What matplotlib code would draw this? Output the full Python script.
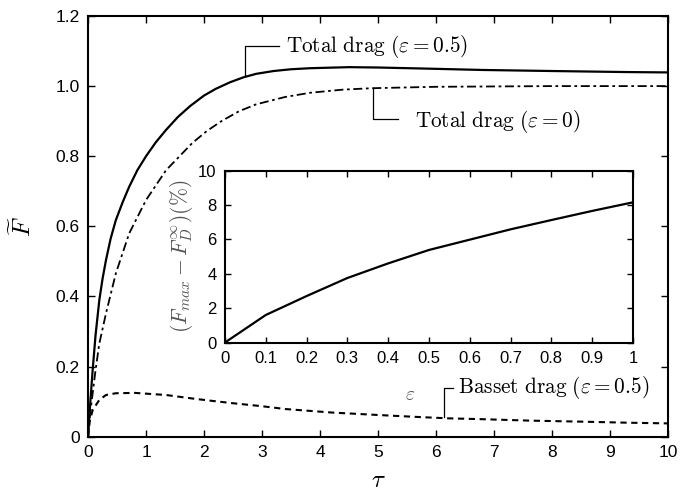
import matplotlib
matplotlib.use('Agg')
import matplotlib.pyplot as plt

plt.rcParams['font.family'] = ['Liberation Sans', 'DejaVu Sans']
plt.rcParams['mathtext.fontset'] = 'cm'

# total drag, eps = 0.5 (solid)
tau_a = [0, 0.02, 0.04, 0.08, 0.13, 0.195, 0.25, 0.31, 0.39, 0.48, 0.6, 0.71, 0.85,
         1.0, 1.17, 1.345, 1.55, 1.76, 2.0, 2.2, 2.45, 2.68, 2.9, 3.2, 3.5, 3.83,
         4.5, 5.0, 5.8, 6.8, 8.0, 9.3, 10]
F_a = [0, 0.05, 0.10, 0.19, 0.29, 0.39, 0.45, 0.504, 0.565, 0.618, 0.67, 0.713,
       0.76, 0.80, 0.84, 0.875, 0.912, 0.943, 0.973, 0.992, 1.011, 1.025, 1.035,
       1.043, 1.048, 1.051, 1.054, 1.053, 1.05, 1.046, 1.043, 1.040, 1.039]

# total drag, eps = 0 (dash-dot)
tau_b = [0, 0.02, 0.04, 0.08, 0.13, 0.195, 0.31, 0.48, 0.71, 1.0, 1.345, 1.8,
         2.05, 2.3, 2.6, 2.9, 3.4, 3.83, 4.4, 4.9, 6.0, 8.0, 10]
F_b = [0, 0.04, 0.07, 0.124, 0.19, 0.266, 0.352, 0.466, 0.58, 0.675, 0.76, 0.838,
       0.872, 0.9, 0.928, 0.948, 0.969, 0.981, 0.99, 0.994, 0.998, 1.0, 1.0]

# basset drag, eps = 0.5 (dashed)
tau_c = [0, 0.03, 0.08, 0.195, 0.31, 0.48, 0.81, 1.345, 1.8, 2.1, 2.53, 3.0, 3.4,
         4.2, 5.0, 5.6, 6.2, 6.8, 7.6, 8.5, 9.3, 10]
F_c = [0, 0.045, 0.076, 0.105, 0.119, 0.124, 0.125, 0.119, 0.109, 0.103, 0.095,
       0.087, 0.079, 0.069, 0.062, 0.057, 0.0525, 0.05, 0.046, 0.043, 0.040, 0.038]

# inset: max overshoot vs eps
eps = [0, 0.1, 0.2, 0.3, 0.4, 0.5, 0.6, 0.7, 0.8, 0.9, 1.0]
over = [0, 1.6, 2.7, 3.75, 4.6, 5.38, 5.98, 6.58, 7.12, 7.65, 8.15]

yticks = [0, 0.2, 0.4, 0.6, 0.8, 1.0, 1.2]
ylabels = ['0', '0.2', '0.4', '0.6', '0.8', '1.0', '1.2']
in_xticks = [0, 0.1, 0.2, 0.3, 0.4, 0.5, 0.6, 0.7, 0.8, 0.9, 1.0]
in_xlabels = ['0', '0.1', '0.2', '0.3', '0.4', '0.5', '0.6', '0.7', '0.8', '0.9', '1']

fig = plt.figure(figsize=(6.92, 4.99), dpi=100)
ax = fig.add_axes([0.1272, 0.1248, 0.8381, 0.8432])

ax.plot(tau_a, F_a, color='k', lw=1.6)
ax.plot(tau_b, F_b, color='k', lw=1.3, linestyle=(0, (5, 2, 1.5, 2)))
ax.plot(tau_c, F_c, color='k', lw=1.5, linestyle=(0, (3, 2.2)))

ax.set_xlim(0, 10)
ax.set_ylim(0, 1.2)
ax.set_xticks(range(11))
ax.set_yticks(yticks)
ax.set_yticklabels(ylabels)
ax.tick_params(direction='in', length=5, width=1, labelsize=12.5,
               top=True, right=True, pad=6)
for s in ax.spines.values():
    s.set_linewidth(1.5)
ax.set_xlabel(r'$\tau$', fontsize=18, labelpad=6)
ax.set_ylabel(r'$\widetilde{F}$', fontsize=18, labelpad=14)

# leader lines and labels (data coordinates)
def leader(xs, ys, text, tx, ty):
    ax.plot(xs, ys, color='k', lw=0.9)
    ax.text(tx, ty, text, fontsize=15.3, ha='left', va='center')

leader([2.71, 2.71, 3.29], [1.028, 1.113, 1.113],
       r'$\mathrm{Total\ drag\ (}\varepsilon = 0.5\mathrm{)}$', 3.42, 1.113)
leader([4.91, 4.91, 5.35], [0.995, 0.907, 0.907],
       r'$\mathrm{Total\ drag\ (}\varepsilon = 0\mathrm{)}$', 5.63, 0.90)
leader([6.14, 6.14, 6.3], [0.055, 0.139, 0.139],
       r'$\mathrm{Basset\ drag\ (}\varepsilon = 0.5\mathrm{)}$', 6.38, 0.139)

# inset
ins = fig.add_axes([0.3251, 0.3136, 0.5896, 0.3447])
ins.plot(eps, over, color='k', lw=1.6)
ins.set_xlim(0, 1)
ins.set_ylim(0, 10)
ins.set_xticks(in_xticks)
ins.set_xticklabels(in_xlabels)
ins.set_yticks([0, 2, 4, 6, 8, 10])
ins.tick_params(direction='in', length=4, width=1, labelsize=12,
                top=True, right=True, pad=6)
for s in ins.spines.values():
    s.set_linewidth(1.5)
ins.set_xlabel(r'$\varepsilon$', fontsize=14, color='#555555')
ins.xaxis.set_label_coords(0.453, -0.26)
ins.set_ylabel(r'$(F_{max} - F_D^{\infty})(\%)$', fontsize=15.5, color='#555555',
               labelpad=2)

fig.savefig('out.png', dpi=100)
